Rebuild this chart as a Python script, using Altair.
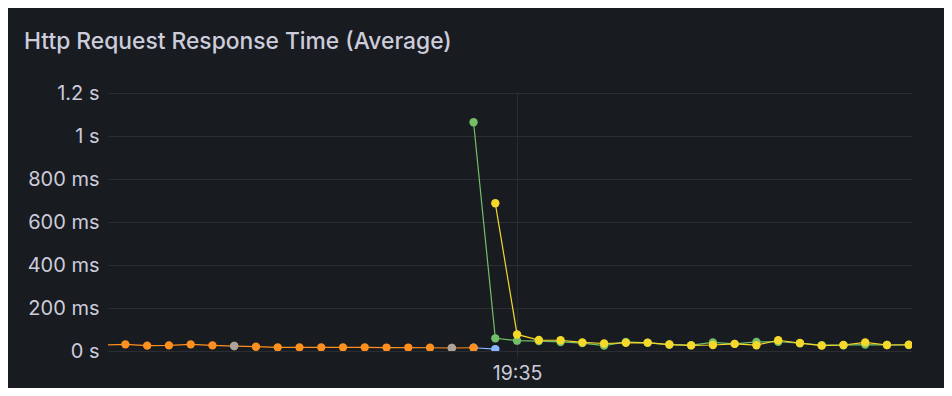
import altair as alt
import pandas as pd

# ---- data (ms), one sample every 10 s starting 19:31:50 ----
times = pd.date_range("2024-01-01 19:31:50", periods=38, freq="10s")
orange = [28, 31, 25, 26, 31, 26, 23, 20, 17, 17, 17, 17, 17, 16, 16, 15, 14, 15] + [None] * 20
blue = [None] * 17 + [15, 9] + [None] * 19
gray = [None] * 6 + [23] + [None] * 9 + [14] + [None] * 21
green = [None] * 17 + [1064, 59, 48, 46, 42, 37, 25, 42, 38, 30, 27, 40, 33, 42, 43, 36, 27, 27, 30, 28, 28]
yellow = [None] * 18 + [687, 77, 51, 50, 40, 35, 38, 39, 30, 26, 28, 33, 27, 50, 37, 25, 28, 40, 28, 29]

y_ticks = [0, 200, 400, 600, 800, 1000, 1200]
x_tick = alt.DateTime(year=2024, month=1, date=1, hours=19, minutes=35, seconds=0)

series = [
    ("blue", blue, "#8AB8FF", True),
    ("orange", orange, "#FF8F1F", True),
    ("gray", gray, "#ABA49E", False),
    ("green", green, "#73BF69", True),
    ("yellow", yellow, "#F5D82A", True),
]

FONT = "Inter"
LABEL = "#ccccdc"
GRID = "#2b2d33"

x_scale = alt.Scale(
    domain=[
        alt.DateTime(year=2024, month=1, date=1, hours=19, minutes=31, seconds=52),
        alt.DateTime(year=2024, month=1, date=1, hours=19, minutes=38, seconds=1, milliseconds=500),
    ]
)
y_scale = alt.Scale(domain=[0, 1200], nice=False)

x_axis = alt.Axis(
    values=[x_tick], format="%H:%M", grid=True, gridColor=GRID, tickColor=GRID,
    tickSize=6, domain=False, labelColor=LABEL, labelFont=FONT, labelFontSize=19.5,
    labelPadding=7, title=None,
)
y_axis = alt.Axis(
    values=y_ticks,
    labelExpr="datum.value == 0 ? '0 s' : (datum.value < 1000 ? datum.value + ' ms' : (datum.value / 1000) + ' s')",
    grid=True, gridColor=GRID, ticks=False, domain=False, labelColor=LABEL,
    labelFont=FONT, labelFontSize=20, labelPadding=9, title=None,
)

layers = []
for name, vals, col, has_line in series:
    df = pd.DataFrame({"time": times, "value": vals}).dropna()
    base = alt.Chart(df).encode(
        x=alt.X("time:T", scale=x_scale, axis=x_axis),
        y=alt.Y("value:Q", scale=y_scale, axis=y_axis),
    )
    if has_line:
        layers.append(base.mark_line(color=col, strokeWidth=1.2, clip=True))
    layers.append(base.mark_point(color=col, filled=True, opacity=1, size=70, clip=True))

chart = alt.layer(*layers).properties(
    width=804,
    height=258,
    autosize=alt.AutoSizeParams(type="none"),
    padding={"left": 100, "top": 85, "right": 32, "bottom": 37},
    background="#181b1f",
    title=alt.TitleParams(
        "Http Request Response Time (Average)", anchor="start", font=FONT,
        fontSize=22.8, fontWeight=500, color=LABEL, dx=-84, offset=11,
        baseline="alphabetic", frame="group",
    ),
).configure_view(stroke=None)

chart.save("out.html", embed_options={"renderer": "svg", "actions": False})
